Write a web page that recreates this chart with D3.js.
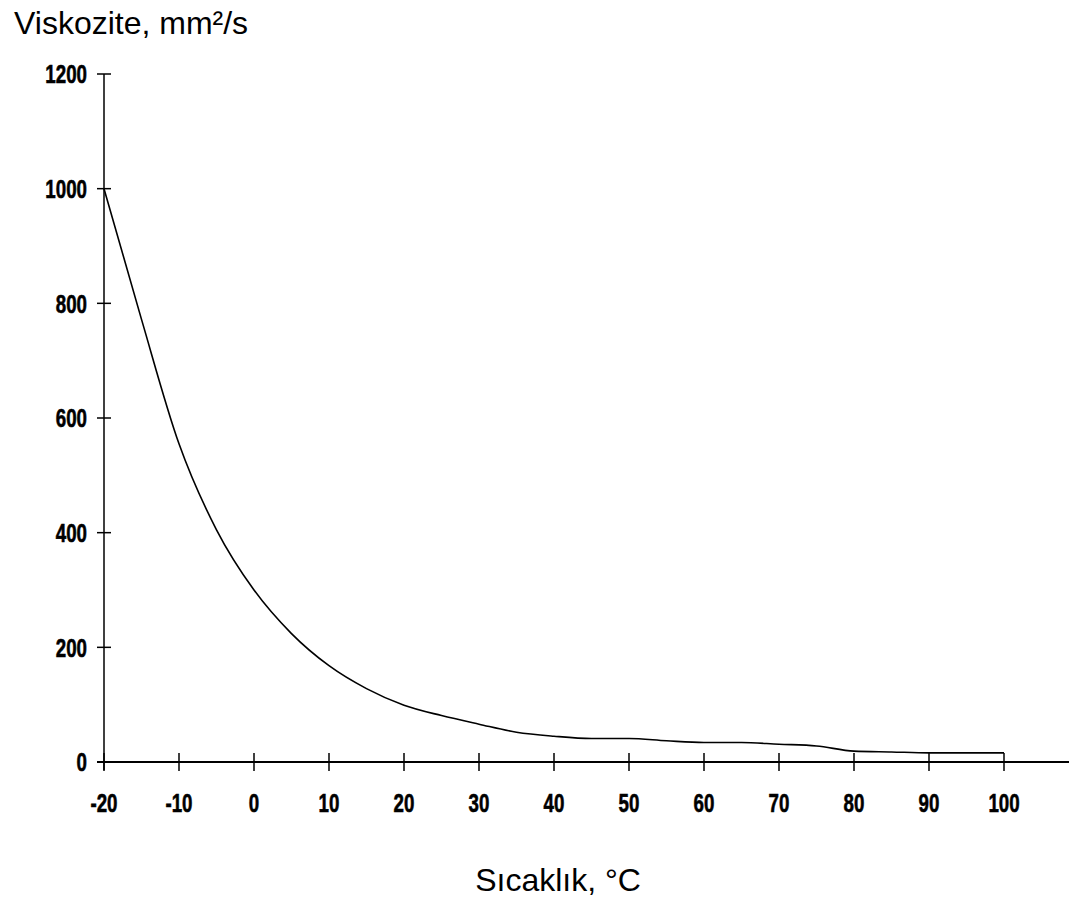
<!DOCTYPE html>
<html>
<head>
<meta charset="utf-8">
<script src="https://cdn.jsdelivr.net/npm/d3@7"></script>
<style>
  html, body { margin: 0; padding: 0; background: #fff; }
  svg { display: block; }
  .tick-label { font-family: "Liberation Sans", Arial, sans-serif; font-weight: bold; font-size: 26px; fill: #000; stroke: #000; stroke-width: 0.6px; }
  .title { font-family: "Liberation Sans", Arial, sans-serif; font-size: 32px; fill: #000; }
</style>
</head>
<body>
<script>
// Data
const temperatures = [-20, -15, -10, -5, 0, 5, 10, 15, 20, 25, 30, 35, 40, 45, 50, 55, 60, 65, 70, 75, 80, 85, 90, 95, 100];
const viscosity    = [1000, 772, 555, 405, 300, 224, 168, 128, 99, 81, 66, 52, 45, 41, 41, 37, 34, 34, 31, 28, 19, 17.5, 16, 16, 16];
const xTicks = [-20, -10, 0, 10, 20, 30, 40, 50, 60, 70, 80, 90, 100];
const yTicks = [0, 200, 400, 600, 800, 1000, 1200];
const yTitle = "Viskozite, mm²/s";
const xTitle = "Sıcaklık, °C";

const W = 1069, H = 899;
const svg = d3.select("body").append("svg").attr("width", W).attr("height", H);

const x = d3.scaleLinear().domain([-20, 100]).range([104, 1004]);
const y = d3.scaleLinear().domain([0, 1200]).range([762, 74]);
const sx = 0.72; // horizontal condensing for tick labels

// axis lines
svg.append("line").attr("x1", x(-20)).attr("x2", x(-20)).attr("y1", y(1200)).attr("y2", y(0) + 8)
  .attr("stroke", "#000").attr("stroke-width", 1.5);
svg.append("line").attr("x1", x(-20) - 7).attr("x2", 1069).attr("y1", y(0)).attr("y2", y(0))
  .attr("stroke", "#000").attr("stroke-width", 2);

// y ticks
const yg = svg.append("g");
yTicks.forEach(v => {
  yg.append("line").attr("x1", x(-20) - 7).attr("x2", x(-20) + 7).attr("y1", y(v)).attr("y2", y(v))
    .attr("stroke", "#000").attr("stroke-width", 1.5);
  yg.append("text").attr("class", "tick-label")
    .attr("transform", `translate(87,${y(v)}) scale(${sx},1)`)
    .attr("text-anchor", "end").attr("dominant-baseline", "central").text(v);
});

// x ticks
const xg = svg.append("g");
xTicks.forEach(v => {
  xg.append("line").attr("x1", x(v)).attr("x2", x(v)).attr("y1", y(0) - 9).attr("y2", y(0) + 9)
    .attr("stroke", "#000").attr("stroke-width", 1.5);
  xg.append("text").attr("class", "tick-label")
    .attr("transform", `translate(${x(v)},803) scale(${sx},1)`)
    .attr("text-anchor", "middle").attr("dominant-baseline", "central").text(v);
});

// curve
const data = temperatures.map((t, i) => [t, viscosity[i]]);
svg.append("path").datum(data)
  .attr("fill", "none").attr("stroke", "#000").attr("stroke-width", 1.6)
  .attr("d", d3.line().curve(d3.curveMonotoneX).x(d => x(d[0])).y(d => y(d[1])));

// titles
svg.append("text").attr("class", "title").attr("x", 14).attr("y", 34).text(yTitle);
svg.append("text").attr("class", "title").attr("x", 558).attr("y", 891).attr("text-anchor", "middle").text(xTitle);
</script>
</body>
</html>
